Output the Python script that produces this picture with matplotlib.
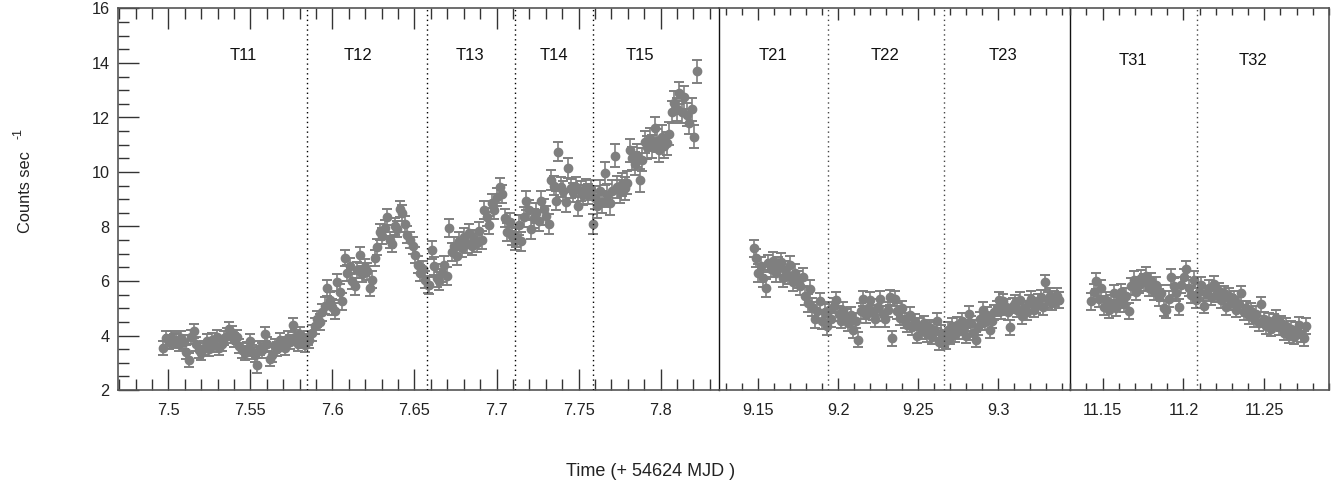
import matplotlib
matplotlib.use("Agg")
import matplotlib.pyplot as plt
import matplotlib.ticker as ticker
import numpy as np

plt.rcParams.update({"font.family": ["Liberation Sans", "DejaVu Sans"], "font.size": 11.7})

# time span (days, + 54624 MJD) and count rates, per segment
T11_SPAN = (7.497, 7.585)
T11_RATE = [3.55, 3.9, 3.75, 3.9, 3.8, 3.85, 3.7, 3.9, 3.75, 3.4, 3.1, 3.95, 4.15, 3.7, 3.45,
            3.35, 3.55, 3.8, 3.5, 3.85, 3.65, 3.95, 3.55, 3.7, 3.9, 4.0, 4.25, 4.1, 3.85, 3.95,
            3.6, 3.45, 3.35, 3.5, 3.8, 3.4, 3.3, 2.9, 3.55, 3.45, 4.05, 3.7, 3.15, 3.3, 3.6,
            3.5, 3.85, 3.7, 3.55, 3.9, 3.75, 4.4, 3.95, 3.7, 4.05, 3.8, 3.65, 3.9]
T12_SPAN = (7.586, 7.658)
T12_RATE = [3.85, 4.1, 4.35, 4.6, 4.5, 4.85, 5.1, 5.75, 5.3, 5.05, 4.9, 5.95, 5.6, 5.25, 6.85,
            6.3, 6.55, 6.0, 5.8, 6.4, 6.95, 6.25, 6.5, 6.35, 5.75, 6.05, 6.85, 7.25, 7.8, 7.65,
            7.95, 8.35, 7.5, 7.35, 8.0, 7.9, 8.65, 8.5, 8.1, 7.7, 7.5, 7.3, 6.95, 6.6, 6.3,
            6.45, 6.05, 5.85]
T13_SPAN = (7.659, 7.711)
T13_RATE = [5.85, 7.15, 6.55, 6.1, 6.0, 6.3, 6.6, 6.2, 7.95, 7.05, 7.3, 6.9, 7.45, 7.2, 7.6,
            7.35, 7.75, 7.3, 7.55, 7.4, 7.85, 7.5, 8.6, 8.35, 8.05, 8.85, 8.6, 9.1, 9.45, 9.2,
            8.3, 7.8, 8.15, 7.65, 7.45]
T14_SPAN = (7.712, 7.759)
T14_RATE = [7.6, 8.05, 7.45, 8.35, 8.95, 8.6, 7.9, 8.3, 8.5, 8.2, 8.95, 8.65, 8.4, 8.1, 9.7,
            9.5, 8.95, 10.75, 9.45, 9.3, 8.9, 10.15, 9.4, 9.25, 9.45, 8.75, 9.3, 9.15, 9.4,
            9.2, 9.35, 8.1]
T15_SPAN = (7.760, 7.822)
T15_RATE = [9.05, 8.75, 9.3, 8.9, 9.95, 9.15, 8.85, 9.3, 10.6, 9.45, 9.3, 9.55, 9.4, 9.6,
            10.8, 10.5, 10.3, 10.6, 9.7, 10.45, 11.1, 10.9, 11.2, 10.95, 11.6, 11.15, 10.8,
            11.3, 10.95, 11.05, 11.4, 12.2, 12.55, 12.3, 12.9, 12.2, 12.75, 12.1, 11.8, 12.3,
            11.3, 13.7]
T21_SPAN = (9.147, 9.193)
T21_RATE = [7.2, 6.85, 6.3, 6.55, 6.1, 5.75, 6.65, 6.45, 6.75, 6.3, 6.55, 6.7, 6.1, 6.4, 6.2,
            6.6, 5.95, 6.3, 6.05, 5.8, 6.15, 5.45, 5.2, 5.7, 5.05, 4.6, 4.9, 5.25, 4.55, 4.85,
            4.35]
T22_SPAN = (9.194, 9.266)
T22_RATE = [4.95, 4.6, 5.1, 5.3, 4.8, 4.55, 4.95, 4.7, 4.45, 4.75, 4.2, 4.55, 3.85, 4.9, 5.35,
            4.75, 5.0, 5.3, 4.85, 4.6, 5.05, 5.35, 4.8, 4.6, 4.95, 5.4, 3.9, 5.35, 4.9, 4.65,
            5.0, 4.55, 4.4, 4.75, 4.3, 4.5, 4.0, 4.35, 4.15, 4.45, 4.05, 4.3, 3.95, 4.2, 4.55,
            3.75, 4.1, 3.85]
T23_SPAN = (9.267, 9.338)
T23_RATE = [3.8, 4.2, 3.95, 4.35, 4.05, 4.4, 4.15, 4.55, 4.3, 4.0, 4.8, 4.45, 4.1, 3.85, 4.3,
            4.6, 4.95, 4.5, 4.75, 4.2, 4.55, 4.85, 5.0, 5.3, 4.9, 5.25, 5.05, 4.85, 4.3, 5.1,
            5.2, 4.95, 5.3, 4.7, 5.0, 4.85, 5.2, 5.35, 4.95, 5.1, 5.25, 5.4, 5.05, 5.95, 5.3,
            5.45, 5.2, 5.35, 5.45, 5.3]
T31_SPAN = (11.143, 11.208)
T31_RATE = [5.25, 5.6, 6.0, 5.35, 5.75, 5.05, 5.3, 4.95, 5.2, 5.55, 5.0, 5.3, 5.6, 5.15, 5.45,
            4.9, 5.8, 6.05, 5.6, 5.85, 6.1, 5.95, 6.2, 5.75, 6.0, 5.6, 5.85, 5.4, 5.55, 5.0,
            4.95, 5.35, 6.15, 5.8, 5.55, 5.05, 5.85, 6.15, 6.45, 5.75, 5.5, 6.05, 5.3]
T32_SPAN = (11.2095, 11.276)
T32_RATE = [5.6, 5.85, 5.1, 5.55, 5.75, 5.4, 5.9, 5.5, 5.65, 5.3, 5.55, 5.05, 5.45, 5.2, 5.35,
            4.95, 5.15, 5.55, 4.85, 5.0, 4.7, 4.9, 4.6, 4.8, 4.45, 5.15, 4.6, 4.35, 4.55, 4.25,
            4.5, 4.65, 4.3, 4.45, 4.1, 4.35, 4.0, 4.25, 3.95, 4.2, 4.4, 4.05, 3.9, 4.35]

# typical 1-sigma error bar per segment
SEG_ERR = {"T11": 0.26, "T12": 0.30, "T13": 0.33, "T14": 0.36, "T15": 0.42,
           "T21": 0.32, "T22": 0.28, "T23": 0.28, "T31": 0.30, "T32": 0.28}

SEGMENTS = [
    ("T11", T11_SPAN, T11_RATE), ("T12", T12_SPAN, T12_RATE), ("T13", T13_SPAN, T13_RATE),
    ("T14", T14_SPAN, T14_RATE), ("T15", T15_SPAN, T15_RATE),
    ("T21", T21_SPAN, T21_RATE), ("T22", T22_SPAN, T22_RATE), ("T23", T23_SPAN, T23_RATE),
    ("T31", T31_SPAN, T31_RATE), ("T32", T32_SPAN, T32_RATE),
]

# segment boundaries (dotted) and label positions
BOUNDS = [7.5844, 7.6577, 7.711, 7.7591, 9.1938, 9.2663, 11.2083]
LABEL_POS = {"T11": (7.5456, 14.26), "T12": (7.6157, 14.26), "T13": (7.684, 14.26),
             "T14": (7.7352, 14.26), "T15": (7.7876, 14.26), "T21": (9.1591, 14.26),
             "T22": (9.2295, 14.26), "T23": (9.3027, 14.26), "T31": (11.1689, 14.11),
             "T32": (11.2432, 14.11)}

W, H = 1340, 486
PANELS = [
    dict(x0=118, x1=719, xlim=(7.4693, 7.8356), tick_len=(14.9, 7.7)),
    dict(x0=719, x1=1070, xlim=(9.1254, 9.3448), tick_len=(8.9, 5.0)),
    dict(x0=1070, x1=1329, xlim=(11.1298, 11.2900), tick_len=(8.9, 5.0)),
]
Y_TOP, Y_BOT = 8.5, 390
GREY = "#7f7f7f"

fig = plt.figure(figsize=(W / 100, H / 100), dpi=100)
for i, p in enumerate(PANELS):
    ax = fig.add_axes([p["x0"] / W, 1 - Y_BOT / H, (p["x1"] - p["x0"]) / W, (Y_BOT - Y_TOP) / H])
    ax.patch.set_visible(False)
    ax.set_xlim(*p["xlim"])
    ax.set_ylim(2, 16)
    for name, span, rate in SEGMENTS:
        t = np.linspace(span[0], span[1], len(rate))
        if not (p["xlim"][0] <= t[0] <= p["xlim"][1]):
            continue
        err = np.full(len(rate), SEG_ERR[name])
        ax.errorbar(t, rate, yerr=err, fmt="o", ms=6.0, color=GREY, mec=GREY, ecolor=GREY,
                    elinewidth=1.2, capsize=3.8, capthick=1.4, zorder=2)
        lx, ly = LABEL_POS[name]
        ax.text(lx, ly, name, ha="center", va="center", fontsize=12, color="#111111")
    for b in BOUNDS:
        if p["xlim"][0] < b < p["xlim"][1]:
            ax.axvline(b, color="black" if i == 0 else "#444444", lw=1.0,
                       ls=(0, (1, 2.5)), zorder=3)

    ax.xaxis.set_major_locator(ticker.MultipleLocator(0.05))
    ax.xaxis.set_minor_locator(ticker.MultipleLocator(0.01))
    ax.xaxis.set_major_formatter(ticker.FuncFormatter(lambda v, _: f"{v:g}"))
    major, minor = p["tick_len"]
    ax.tick_params(axis="x", which="major", direction="in", top=True, length=major,
                   width=1.0, color="#333333", pad=9, labelsize=11.7, labelcolor="#222222")
    ax.tick_params(axis="x", which="minor", direction="in", top=True, length=minor,
                   width=1.0, color="#333333")
    if i == 0:
        ax.yaxis.set_major_locator(ticker.MultipleLocator(2))
        ax.yaxis.set_minor_locator(ticker.MultipleLocator(0.5))
        ax.tick_params(axis="y", which="major", direction="in", length=14.9, width=1.0,
                       color="#333333", pad=6, labelsize=11.7, labelcolor="#222222")
        ax.tick_params(axis="y", which="minor", direction="in", length=7.7, width=1.0,
                       color="#333333")
    else:
        ax.tick_params(axis="y", which="both", left=False, labelleft=False)

    for side in ("top", "bottom"):
        ax.spines[side].set_color("#555555")
        ax.spines[side].set_linewidth(1.2)
    ax.spines["left"].set_visible(i == 0)
    ax.spines["left"].set_color("#555555")
    ax.spines["left"].set_linewidth(1.2)
    ax.spines["right"].set_color("#111111" if i < 2 else "#555555")
    ax.spines["right"].set_linewidth(1.0 if i < 2 else 1.2)
    ax.spines["right"].set_zorder(4)

fig.text(26 / W, 1 - 192 / H, "Counts sec", rotation=90, ha="center", va="center",
         fontsize=11.8, color="#222222")
fig.text(19 / W, 1 - 133 / H, "-1", rotation=90, ha="center", va="center",
         fontsize=9, color="#222222")
fig.text(651 / W, 1 - 471 / H, "Time (+ 54624 MJD )", ha="center", va="center",
         fontsize=13, color="#222222")

fig.savefig("out.png", dpi=100)
